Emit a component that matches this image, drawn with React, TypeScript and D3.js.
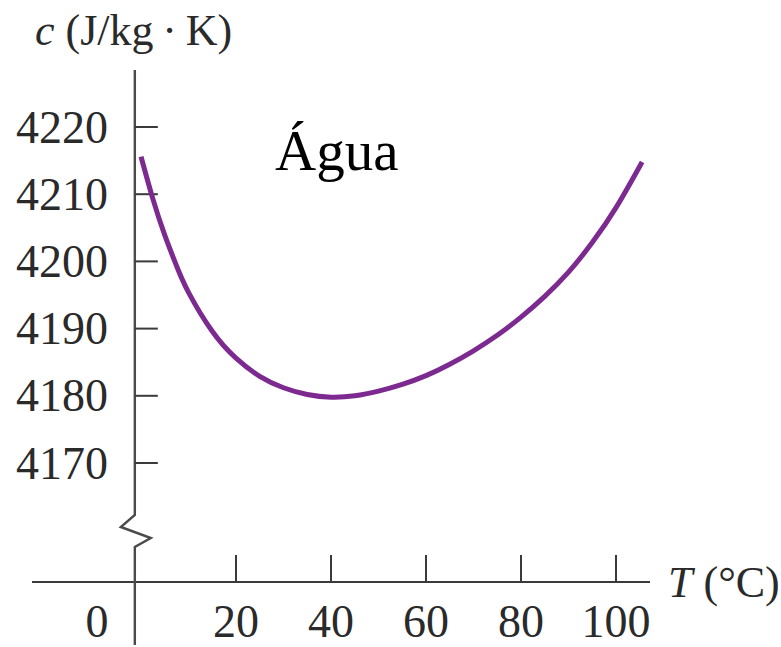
import * as d3 from "d3";
import { useEffect, useRef } from "react";

// temperature (°C) and specific heat of water c (J/kg·K)
const temps = [0, 2.5, 5, 7.5, 10, 15, 20, 25, 30, 35, 40, 45, 50, 55, 60, 65, 70, 75, 80, 85, 90, 95, 100, 105.5];
const heat = [4215.6, 4209.3, 4203.9, 4199.3, 4195.4, 4189.6, 4185.6, 4182.9, 4181.2, 4180.2, 4179.8, 4180.0, 4180.7, 4181.7, 4183.0, 4184.7, 4186.7, 4189.0, 4191.7, 4194.8, 4198.4, 4202.8, 4208.0, 4214.8];

const xTicks = [20, 40, 60, 80, 100];
const yTicks = [4170, 4180, 4190, 4200, 4210, 4220];

const App = () => {
    const ref = useRef<SVGSVGElement>(null);

    useEffect(() => {
        const width = 781;
        const height = 647;
        const svg = d3.select(ref.current);
        svg.selectChildren().remove();
        svg.attr("width", width).attr("height", height);

        const font = "'Liberation Serif', 'Times New Roman', serif";
        const axisColor = "#3a3a3a";
        const lineColor = "#7d2a90";

        const x = d3.scaleLinear().domain([0, 100]).range([141, 616]);
        const y = d3.scaleLinear().domain([4170, 4220]).range([463, 127]);

        const axisX = x(-1.3);
        const baseY = 582;

        // x axis
        svg.append("line")
            .attr("x1", 32).attr("x2", 650)
            .attr("y1", baseY).attr("y2", baseY)
            .attr("stroke", axisColor).attr("stroke-width", 2.2);

        xTicks.forEach(t => {
            svg.append("line")
                .attr("x1", x(t)).attr("x2", x(t))
                .attr("y1", baseY - 27).attr("y2", baseY)
                .attr("stroke", axisColor).attr("stroke-width", 2);
            svg.append("text")
                .attr("x", x(t)).attr("y", 637)
                .attr("text-anchor", "middle")
                .attr("font-family", font).attr("font-size", 46)
                .attr("fill", "#2a2a2a")
                .text(t);
        });

        svg.append("text")
            .attr("x", x(0) - 44).attr("y", 637)
            .attr("text-anchor", "middle")
            .attr("font-family", font).attr("font-size", 46)
            .attr("fill", "#2a2a2a")
            .text("0");

        // y axis with a break
        const breakTop = 515;
        const yAxisPath = d3.path();
        yAxisPath.moveTo(axisX, 70);
        yAxisPath.lineTo(axisX, breakTop);
        yAxisPath.lineTo(axisX - 14, breakTop + 12);
        yAxisPath.lineTo(axisX + 16, breakTop + 23);
        yAxisPath.lineTo(axisX, breakTop + 32);
        yAxisPath.lineTo(axisX, 645);
        svg.append("path")
            .attr("d", yAxisPath.toString())
            .attr("fill", "none")
            .attr("stroke", "#4a4a4a").attr("stroke-width", 2.4)
            .attr("stroke-linejoin", "miter");

        yTicks.forEach(v => {
            svg.append("line")
                .attr("x1", axisX).attr("x2", axisX + 23)
                .attr("y1", y(v)).attr("y2", y(v))
                .attr("stroke", axisColor).attr("stroke-width", 2);
            svg.append("text")
                .attr("x", 108).attr("y", y(v))
                .attr("dy", "0.34em")
                .attr("text-anchor", "end")
                .attr("font-family", font).attr("font-size", 46)
                .attr("fill", "#2a2a2a")
                .text(v);
        });

        // axis titles
        const yTitle = svg.append("text")
            .attr("x", 35).attr("y", 45)
            .attr("font-family", font).attr("font-size", 44)
            .attr("fill", "#2a2a2a");
        yTitle.append("tspan").attr("font-style", "italic").text("c");
        yTitle.append("tspan").text(" (J/kg\u2009\u00b7\u2009K)");

        const xTitle = svg.append("text")
            .attr("x", 668).attr("y", 597)
            .attr("font-family", font).attr("font-size", 44)
            .attr("fill", "#2a2a2a");
        xTitle.append("tspan").attr("font-style", "italic").text("T");
        xTitle.append("tspan").text(" (\u00b0C)");

        // curve
        const data = temps.map((t, i) => ({ t, c: heat[i] }));
        svg.append("path")
            .datum(data)
            .attr("fill", "none")
            .attr("stroke", lineColor)
            .attr("stroke-width", 5)
            .attr("d", d3.line<{ t: number; c: number }>()
                .x(d => x(d.t))
                .y(d => y(d.c))
                .curve(d3.curveNatural)
            );

        svg.append("text")
            .attr("x", 275).attr("y", 170)
            .attr("font-family", font).attr("font-size", 57)
            .attr("fill", "#000")
            .text("Água");
    });

    return (
        <svg ref={ref} style={{ position: "absolute", left: 0, top: 0, background: "#fff" }} />
    );
};

export default App;
